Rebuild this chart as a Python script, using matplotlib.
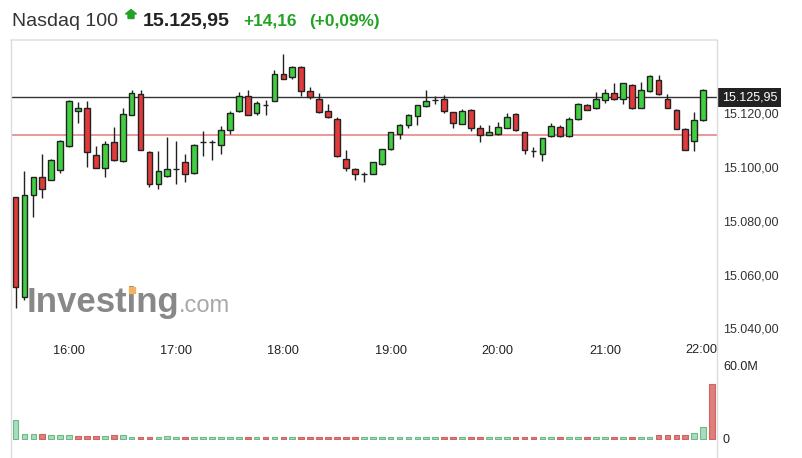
import numpy as np
import matplotlib
matplotlib.use("Agg")
import matplotlib.pyplot as plt
import matplotlib.transforms as mtrans
from matplotlib.patches import Polygon, Rectangle
from matplotlib.lines import Line2D
from matplotlib.ticker import FuncFormatter

# ---------------- data (5-minute candles, 15:30 .. 21:55) ----------------
opens = [15088.8, 15051.7, 15089.7, 15096.2, 15095.3, 15099.0, 15107.8, 15120.9, 15122.1, 15104.3,
         15099.7, 15109.3, 15102.1, 15119.5, 15127.0, 15105.6, 15093.8, 15096.6, 15099.1, 15101.8,
         15097.7, 15109.3, 15109.3, 15108.3, 15113.9, 15120.7, 15126.5, 15120.1, 15123.2, 15124.6,
         15134.6, 15133.5, 15137.3, 15128.2, 15125.2, 15120.9, 15118.0, 15103.1, 15099.4, 15097.5,
         15097.6, 15101.2, 15106.8, 15112.4, 15115.5, 15119.0, 15122.7, 15124.9, 15125.2, 15120.3,
         15116.2, 15121.4, 15114.7, 15112.1, 15112.4, 15114.7, 15119.9, 15113.0, 15105.8, 15105.0,
         15111.4, 15114.9, 15111.5, 15117.8, 15123.2, 15121.8, 15124.9, 15127.7, 15125.5, 15130.7,
         15122.0, 15128.2, 15132.3, 15125.5, 15121.4, 15114.3, 15109.6, 15117.6]
highs = [15089.0, 15098.7, 15096.4, 15104.7, 15102.9, 15110.0, 15125.1, 15124.2, 15124.6, 15107.8,
         15109.7, 15114.9, 15122.0, 15128.6, 15128.6, 15105.8, 15105.8, 15111.2, 15109.6, 15105.0,
         15108.5, 15113.3, 15109.9, 15115.1, 15120.7, 15128.0, 15128.8, 15124.5, 15124.9, 15136.0,
         15142.0, 15137.5, 15137.5, 15129.8, 15127.4, 15123.6, 15118.6, 15106.5, 15099.6, 15098.1,
         15101.9, 15106.9, 15113.2, 15115.9, 15119.6, 15123.1, 15128.6, 15126.3, 15126.7, 15120.5,
         15121.5, 15121.6, 15115.5, 15115.5, 15116.8, 15120.1, 15120.1, 15113.2, 15107.4, 15110.9,
         15116.4, 15115.5, 15118.6, 15123.7, 15123.4, 15127.9, 15129.0, 15131.1, 15131.2, 15130.9,
         15131.7, 15134.4, 15134.4, 15127.0, 15121.6, 15114.5, 15120.5, 15129.0]
lows = [15047.7, 15050.5, 15081.6, 15088.5, 15095.0, 15097.9, 15107.6, 15116.5, 15100.2, 15099.5,
        15096.2, 15102.3, 15101.8, 15119.3, 15106.2, 15092.5, 15091.9, 15096.2, 15093.8, 15094.4,
        15097.5, 15104.0, 15102.5, 15105.0, 15112.4, 15120.5, 15119.3, 15119.3, 15119.5, 15124.4,
        15132.7, 15132.6, 15126.3, 15125.5, 15120.1, 15118.4, 15103.8, 15098.7, 15095.0, 15094.4,
        15097.4, 15100.6, 15106.2, 15110.6, 15114.7, 15115.8, 15122.5, 15123.6, 15120.1, 15114.7,
        15116.0, 15113.3, 15109.3, 15111.9, 15112.1, 15114.5, 15113.5, 15105.0, 15103.7, 15102.2,
        15111.2, 15111.3, 15111.3, 15117.6, 15121.2, 15121.6, 15124.0, 15124.9, 15123.6, 15121.6,
        15121.8, 15128.0, 15126.8, 15122.0, 15114.1, 15106.3, 15105.8, 15117.0]
closes = [15055.4, 15089.7, 15096.2, 15091.9, 15102.7, 15109.8, 15124.6, 15121.8, 15105.6, 15099.7,
          15108.7, 15102.5, 15119.9, 15127.4, 15106.5, 15093.8, 15098.7, 15099.1, 15099.1, 15097.5,
          15108.3, 15109.3, 15109.3, 15113.9, 15120.1, 15126.5, 15119.5, 15123.8, 15123.2, 15134.8,
          15132.9, 15137.3, 15128.2, 15126.1, 15120.3, 15118.6, 15104.0, 15099.7, 15097.5, 15097.5,
          15101.8, 15106.8, 15113.0, 15115.8, 15119.5, 15123.0, 15124.6, 15124.9, 15120.9, 15116.5,
          15120.9, 15114.7, 15112.1, 15113.0, 15114.9, 15118.6, 15113.7, 15106.2, 15105.8, 15110.8,
          15115.3, 15111.5, 15117.8, 15123.6, 15121.4, 15125.5, 15127.7, 15125.5, 15131.1, 15121.8,
          15128.6, 15133.8, 15127.0, 15122.1, 15114.3, 15106.5, 15117.6, 15128.8]
# volume in millions (last bar = 22:00 closing auction)
volumes = [15.2, 3.6, 3.6, 3.8, 2.6, 2.6, 2.6, 2.4, 2.4, 2.0,
           1.8, 2.8, 2.6, 1.6, 1.6, 1.6, 1.6, 2.4, 1.6, 1.6,
           1.6, 1.6, 1.5, 1.5, 1.5, 1.5, 1.6, 1.6, 1.5, 1.6,
           1.5, 1.5, 1.5, 1.5, 1.5, 1.5, 1.6, 1.6, 1.5, 1.5,
           1.5, 1.5, 1.5, 1.5, 1.5, 1.5, 1.5, 1.5, 1.5, 1.5,
           1.5, 1.5, 1.5, 1.5, 1.5, 1.5, 1.5, 1.5, 1.5, 1.5,
           1.5, 1.5, 1.5, 1.5, 1.5, 1.5, 1.5, 1.5, 1.5, 1.5,
           1.5, 1.5, 3.1, 3.1, 3.1, 3.1, 4.8, 9.7, 44.8]
last_price = 15125.95
change = 14.16
change_pct = 0.09
prev_close = last_price - change
price_ticks = [15040, 15060, 15080, 15100, 15120]
time_labels = ["16:00", "17:00", "18:00", "19:00", "20:00", "21:00", "22:00"]
time_label_idx = [6, 18, 30, 42, 54, 66, 78]


def eu(v, dec=2):
    s = f"{v:,.{dec}f}"
    return s.replace(",", "X").replace(".", ",").replace("X", ".")


plt.rcParams["font.family"] = ["Liberation Sans", "DejaVu Sans"]

W, H = 802, 458
fig = plt.figure(figsize=(W / 100, H / 100), dpi=100)
fig.patch.set_facecolor("white")


def fx(px):
    return px / W


def fy(py):
    return 1 - py / H


GREEN = "#41cf41"
RED = "#e23a3a"
EDGE = "#222222"

o = np.array(opens); c = np.array(closes); h = np.array(highs); l = np.array(lows)
x = np.arange(len(o))
up = c >= o

# ---------------- price pane ----------------
ax = fig.add_axes([fx(11), fy(342), fx(717) - fx(11), fy(40) - fy(342)])
ax.set_xlim(-0.504, 78.55)
px_per_pt = 2.6875
ax.set_ylim(15120 - (342 - 113.3) / px_per_pt, 15120 + (113.3 - 40) / px_per_pt)

ax.axhline(prev_close, color="#e98585", lw=1.2, zorder=1.5)
ax.axhline(last_price, color="#333333", lw=1.0, zorder=1.5)

ax.vlines(x, l, h, color=EDGE, lw=1.0, zorder=2)
ax.bar(x, np.abs(c - o), bottom=np.minimum(o, c), width=0.64,
       color=[GREEN if u else RED for u in up], edgecolor=EDGE, linewidth=1.0, zorder=3)

for s in ["left", "right", "bottom"]:
    ax.spines[s].set_visible(False)
ax.spines["top"].set_color("#e2e2e2")
ax.spines["top"].set_linewidth(1.2)

ax.yaxis.tick_right()
ax.set_yticks(price_ticks)
ax.yaxis.set_major_formatter(FuncFormatter(lambda v, p: eu(v)))
ax.tick_params(axis="y", length=0, pad=4.3, labelsize=9, labelcolor="#333333")

ax.set_xticks(time_label_idx[:-1])
ax.set_xticklabels(time_labels[:-1])
ax.tick_params(axis="x", length=0, pad=2.5, labelsize=9.2, labelcolor="#222222")
off = mtrans.ScaledTranslation(-11 / 100, -1.2 / 72, fig.dpi_scale_trans)
ax.text(time_label_idx[-1], 0, time_labels[-1],
        transform=mtrans.blended_transform_factory(ax.transData, ax.transAxes) + off,
        ha="center", va="top", fontsize=9.2, color="#222222", clip_on=False)

# price box
boff = mtrans.ScaledTranslation(5 / 100, 0, fig.dpi_scale_trans)
ax.text(1.0, last_price, eu(last_price),
        transform=mtrans.blended_transform_factory(ax.transAxes, ax.transData) + boff,
        ha="left", va="center", color="white", fontsize=9,
        bbox=dict(boxstyle="square,pad=0.3", fc="#222222", ec="none"),
        zorder=10, clip_on=False)

# watermark
ax.text(fx(27), fy(312), "Investing", transform=fig.transFigure, fontsize=25,
        fontweight="bold", color="#888888", ha="left", va="baseline", zorder=0.5)
ax.text(fx(179), fy(312), ".com", transform=fig.transFigure, fontsize=17,
        color="#a8a8a8", ha="left", va="baseline", zorder=0.5)
ax.add_patch(Rectangle((fx(128.5), fy(293)), fx(6), 6 / H, transform=fig.transFigure,
                       color="#f2b45e", zorder=0.6, clip_on=False))

# ---------------- volume pane ----------------
vax = fig.add_axes([fx(11), fy(440), fx(717) - fx(11), fy(358) - fy(440)])
vax.set_xlim(-0.504, 78.55)
vpx = 73.5 / 60.0
vax.set_ylim(-1.5 / vpx, 80.5 / vpx)
vx = np.arange(len(volumes))
all_closes = closes + [last_price]
vup = [True] + [all_closes[i] >= all_closes[i - 1] for i in range(1, len(all_closes))]
vax.bar(vx, volumes, width=0.64,
        color=["#a9dcbc" if u else "#df7e7b" for u in vup],
        edgecolor=["#6cba8a" if u else "#cf6462" for u in vup], linewidth=0.8)
for s in vax.spines.values():
    s.set_visible(False)
vax.yaxis.tick_right()
vax.set_yticks([0, 60])
vax.set_yticklabels(["0", "60.0M"])
vax.tick_params(axis="y", length=0, pad=4.3, labelsize=9, labelcolor="#222222")
vax.set_xticks([])

# frame lines
for xp in (11, 717):
    fig.add_artist(Line2D([fx(xp), fx(xp)], [fy(40), 0], transform=fig.transFigure,
                          color="#dcdcdc", lw=1))

# ---------------- header ----------------
base = fy(26)
fig.text(fx(12.5), base, "Nasdaq 100", fontsize=14, color="#333333", va="baseline")
fig.add_artist(Polygon([(fx(131), fy(9.5)), (fx(136.5), fy(14)), (fx(134), fy(14)),
                        (fx(134), fy(18.5)), (fx(128), fy(18.5)), (fx(128), fy(14)),
                        (fx(125.5), fy(14))], closed=True, transform=fig.transFigure,
                       color="#23a323"))
fig.text(fx(143), base, eu(last_price), fontsize=14, fontweight="bold", color="#222222",
         va="baseline")
fig.text(fx(243), base, "+" + eu(change), fontsize=12.4, fontweight="bold", color="#23a323",
         va="baseline")
fig.text(fx(309), base, "(+" + eu(change_pct) + "%)", fontsize=12.4, fontweight="bold",
         color="#23a323", va="baseline")

fig.savefig("out.png", dpi=100)
